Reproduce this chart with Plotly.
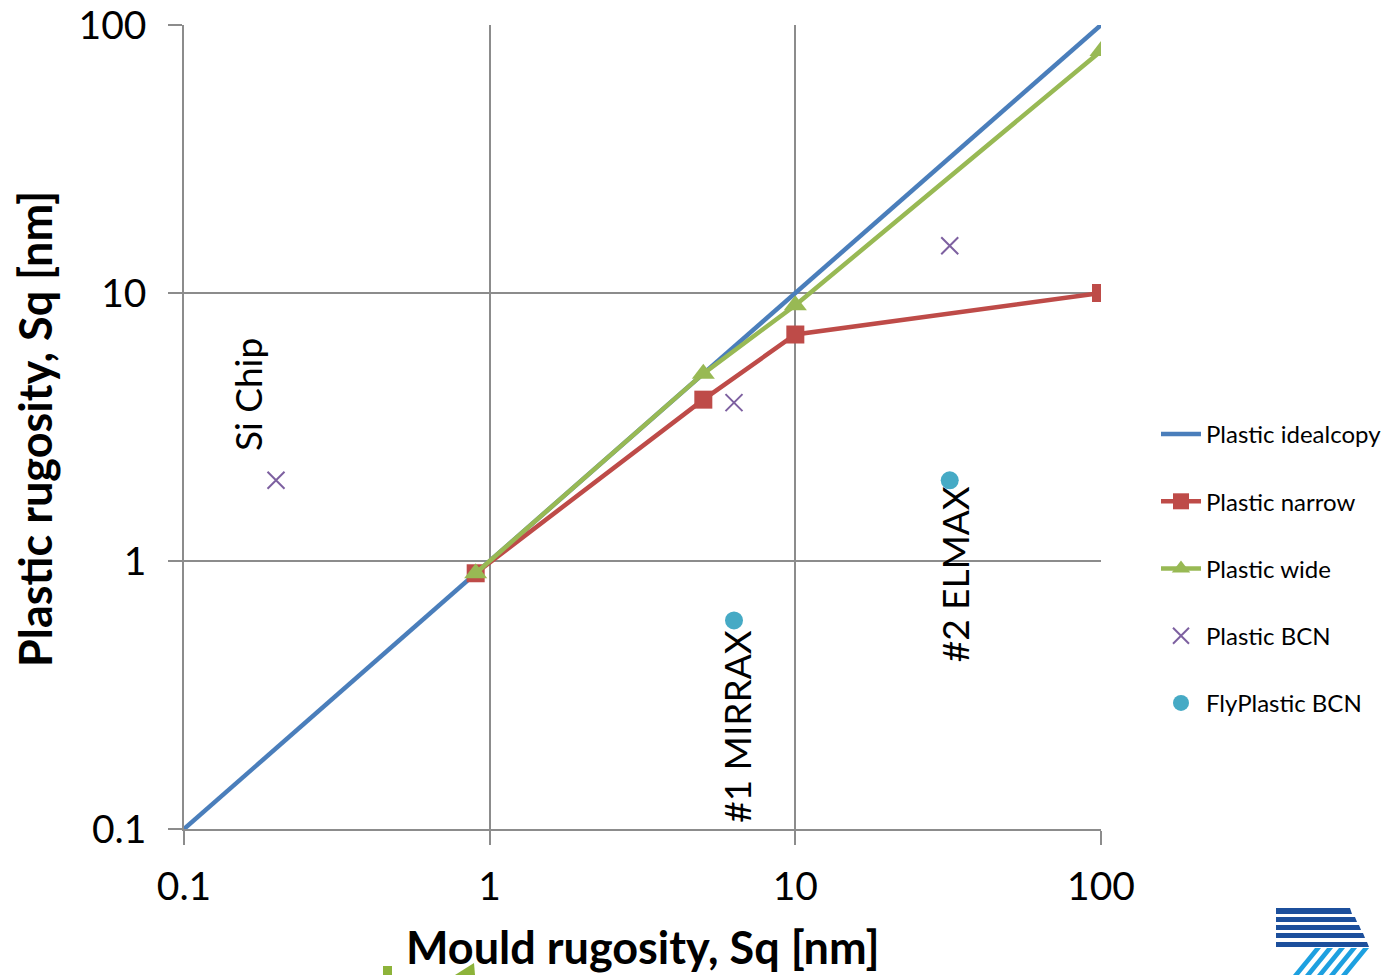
import plotly.graph_objects as go

# Series data
ideal_x = [0.1, 100]
ideal_y = [0.1, 100]

narrow_x = [0.9, 5, 10, 100]
narrow_y = [0.9, 4, 7, 10]

wide_x = [0.9, 5, 10, 100]
wide_y = [0.9, 5, 9, 80]

bcn_x = [0.2, 6.3, 32]
bcn_y = [2, 3.9, 15]

fly_x = [6.3, 32]
fly_y = [0.6, 2]

tick_vals = [0.1, 1, 10, 100]
tick_text = ["0.1", "1", "10", "100"]

FONT = "Lato"
W, H = 1397, 975
L, R, T, B = 184, 1101, 25, 829


def px(x):
    return (x - L) / (R - L)


def py(y):
    return (B - y) / (B - T)


fig = go.Figure()
fig.add_trace(go.Scatter(x=ideal_x, y=ideal_y, mode="lines", name="Plastic idealcopy",
                         line=dict(color="#4A7EBB", width=4.5), legendgroup="a"))
fig.add_trace(go.Scatter(x=narrow_x, y=narrow_y, mode="lines+markers", name="Plastic narrow",
                         line=dict(color="#BE4B48", width=4.5),
                         marker=dict(symbol="square", size=18, color="#BE4B48"), legendgroup="b"))
fig.add_trace(go.Scatter(x=wide_x, y=wide_y, mode="lines+markers", name="Plastic wide",
                         line=dict(color="#98B954", width=4.5),
                         marker=dict(symbol="triangle-up", size=20, color="#98B954"), legendgroup="c"))
fig.add_trace(go.Scatter(x=bcn_x, y=bcn_y, mode="markers", name="Plastic BCN",
                         marker=dict(symbol="x-thin", size=17, line=dict(color="#7D60A0", width=2)),
                         legendgroup="d"))
fig.add_trace(go.Scatter(x=fly_x, y=fly_y, mode="markers", name="FlyPlastic BCN",
                         marker=dict(symbol="circle", size=18, color="#46AAC5"), legendgroup="e"))

axis_common = dict(
    type="log", tickvals=tick_vals, ticktext=tick_text,
    showgrid=True, gridcolor="#8C8C8C", gridwidth=1.5,
    showline=True, linecolor="#8C8C8C", linewidth=1.5, mirror=False,
    ticks="outside", ticklen=14, tickcolor="#8C8C8C", tickwidth=1.5,
    tickfont=dict(family=FONT, size=39, color="black"),
    zeroline=False, automargin=False,
)

fig.update_xaxes(range=[-1, 2], ticklabelstandoff=8, **axis_common)
fig.update_yaxes(range=[-1, 2], ticklabelstandoff=14, **axis_common)

note_font = dict(family=FONT, size=37, color="black")
title_font = dict(family=FONT, size=45, color="black")

annotations = [
    dict(text="Si Chip", x=-0.79, y=0.62, xref="x", yref="y", textangle=-90,
         xanchor="center", yanchor="middle", showarrow=False, font=note_font),
    dict(text="#1 MIRRAX", x=0.809, y=-0.615, xref="x", yref="y", textangle=-90,
         xanchor="center", yanchor="middle", showarrow=False, font=note_font),
    dict(text="#2 ELMAX", x=1.522, y=-0.05, xref="x", yref="y", textangle=-90,
         xanchor="center", yanchor="middle", showarrow=False, font=note_font),
    dict(text="<b>Mould rugosity, Sq [nm]</b>", x=px(643), y=py(947), xref="paper", yref="paper",
         xanchor="center", yanchor="middle", showarrow=False, font=title_font),
    dict(text="<b>Plastic rugosity, Sq [nm]</b>", x=px(35), y=py(429), xref="paper", yref="paper",
         xanchor="center", yanchor="middle", textangle=-90, showarrow=False, font=title_font),
]

shapes = []
# logo stripes, bottom right
dark = "#1C4F9C"
light = "#1DA0E0"
stripes = [(908, 914, 1350), (917, 922, 1355), (925, 930, 1359), (933, 938, 1363), (942, 947, 1367)]
for y0, y1, xr in stripes:
    shapes.append(dict(type="path", xref="paper", yref="paper",
                       path=f"M {px(1276)},{py(y0)} L {px(xr)},{py(y0)} L {px(xr + 2)},{py(y1)} L {px(1276)},{py(y1)} Z",
                       fillcolor=dark, line=dict(width=0)))
for i in range(5):
    xb = 1293 + i * 12
    shapes.append(dict(type="path", xref="paper", yref="paper",
                       path=f"M {px(xb)},{py(975)} L {px(xb + 6)},{py(975)} L {px(xb + 28)},{py(948)} L {px(xb + 22)},{py(948)} Z",
                       fillcolor=light, line=dict(width=0)))
# green fragments, bottom left
shapes.append(dict(type="rect", xref="paper", yref="paper", x0=px(383), x1=px(392), y0=py(975), y1=py(966),
                   fillcolor="#8DB33A", line=dict(width=0)))
shapes.append(dict(type="path", xref="paper", yref="paper",
                   path=f"M {px(455)},{py(975)} L {px(474)},{py(963)} L {px(475)},{py(975)} Z",
                   fillcolor="#8DB33A", line=dict(width=0)))

fig.update_layout(
    width=W, height=H,
    margin=dict(l=L, r=W - R, t=T, b=H - B, autoexpand=False),
    plot_bgcolor="white", paper_bgcolor="white",
    showlegend=True,
    legend=dict(x=px(1156), y=py(412), xanchor="left", yanchor="top",
                font=dict(family=FONT, size=24, color="black"),
                tracegroupgap=33, bgcolor="rgba(0,0,0,0)", itemwidth=40),
    annotations=annotations,
    shapes=shapes,
)

fig.write_html("out.html")
